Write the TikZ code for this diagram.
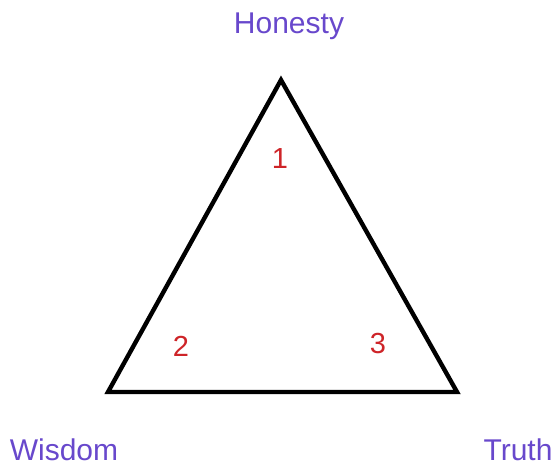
\documentclass[tikz,border=0pt]{standalone}
\usepackage{fontspec}
\setmainfont{Liberation Sans}
\usepackage{tikz}
\usepackage{xcolor}

\definecolor{virtue}{RGB}{104,72,204}
\definecolor{corner}{RGB}{206,36,40}

\begin{document}
\begin{tikzpicture}[x=1pt,y=-1pt,
    vlabel/.style={anchor=base,inner sep=0pt,text=virtue,font=\fontsize{30}{36}\selectfont},
    num/.style={inner sep=0pt,text=corner,font=\fontsize{29}{34}\selectfont}]
    \useasboundingbox (0,0) rectangle (556,465);
    \coordinate (top) at (281,80);
    \coordinate (left) at (108,392);
    \coordinate (right) at (457,392);
    \draw[line width=4.4pt] (top) -- (right) -- (left) -- cycle;
    \node[vlabel] (honesty) at (289,34) {Honesty};
    \node[vlabel] (wisdom) at (64,460) {Wisdom};
    \node[vlabel] (truth) at (518,460) {Truth};
    \node[num] (one) at (280,159) {1};
    \node[num] (two) at (181,346) {2};
    \node[num] (three) at (378,344) {3};
\end{tikzpicture}
\end{document}
